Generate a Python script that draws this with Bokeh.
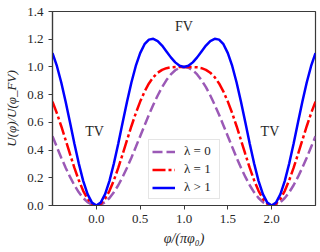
from bokeh.plotting import figure
from bokeh.models import FixedTicker, NumeralTickFormatter, Legend, LegendItem, Range1d
from bokeh.core.properties import value
from bokeh.embed import file_html
from bokeh.resources import INLINE

# x in units of pi*phi0, step 0.05 from -0.5 to 2.5
x = [round(-0.5 + 0.05 * i, 2) for i in range(61)]

u_lam0 = [0.5, 0.422, 0.345, 0.273, 0.206, 0.146, 0.095, 0.054, 0.024, 0.006, 0.0,
          0.006, 0.024, 0.054, 0.095, 0.146, 0.206, 0.273, 0.345, 0.422, 0.5,
          0.578, 0.655, 0.727, 0.794, 0.854, 0.905, 0.946, 0.976, 0.994, 1.0,
          0.994, 0.976, 0.946, 0.905, 0.854, 0.794, 0.727, 0.655, 0.578, 0.5,
          0.422, 0.345, 0.273, 0.206, 0.146, 0.095, 0.054, 0.024, 0.006, 0.0,
          0.006, 0.024, 0.054, 0.095, 0.146, 0.206, 0.273, 0.345, 0.422, 0.5]

u_lam1 = [0.75, 0.666, 0.572, 0.472, 0.370, 0.271, 0.182, 0.106, 0.048, 0.012, 0.0,
          0.012, 0.048, 0.106, 0.182, 0.271, 0.370, 0.472, 0.572, 0.666, 0.75,
          0.822, 0.881, 0.926, 0.958, 0.979, 0.991, 0.997, 0.999, 1.0, 1.0,
          1.0, 0.999, 0.997, 0.991, 0.979, 0.958, 0.926, 0.881, 0.822, 0.75,
          0.666, 0.572, 0.472, 0.370, 0.271, 0.182, 0.106, 0.048, 0.012, 0.0,
          0.012, 0.048, 0.106, 0.182, 0.271, 0.370, 0.472, 0.572, 0.666, 0.75]

u_lamgt1 = [1.1, 1.007, 0.888, 0.749, 0.599, 0.446, 0.303, 0.178, 0.082, 0.021, 0.0,
            0.021, 0.082, 0.178, 0.303, 0.446, 0.599, 0.749, 0.888, 1.007, 1.1,
            1.164, 1.197, 1.203, 1.187, 1.154, 1.112, 1.069, 1.033, 1.008, 1.0,
            1.008, 1.033, 1.069, 1.112, 1.154, 1.187, 1.203, 1.197, 1.164, 1.1,
            1.007, 0.888, 0.749, 0.599, 0.446, 0.303, 0.178, 0.082, 0.021, 0.0,
            0.021, 0.082, 0.178, 0.303, 0.446, 0.599, 0.749, 0.888, 1.007, 1.1]

series_labels = ["λ = 0", "λ = 1", "λ > 1"]
x_ticks = [0.0, 0.5, 1.0, 1.5, 2.0]
y_ticks = [0.0, 0.2, 0.4, 0.6, 0.8, 1.0, 1.2, 1.4]

note_text = ["FV", "TV", "TV"]
note_x = [1.0, -0.02, 1.98]
note_y = [1.29, 0.535, 0.535]

SERIF = "Liberation Serif"
INK = "#262626"

p = figure(width=320, height=252, output_backend="svg", toolbar_location=None,
           x_range=Range1d(-0.5, 2.5), y_range=Range1d(0.0, 1.4),
           min_border_left=52, min_border_right=5, min_border_top=11, min_border_bottom=47)
p.grid.visible = False
p.outline_line_color = "#3a3a3a"
p.outline_line_width = 1.2
p.background_fill_color = "white"
p.border_fill_color = "white"

r0 = p.line(x, u_lam0, line_color="#9b59b6", line_width=2.5, line_dash="10 4")
r1 = p.line(x, u_lam1, line_color="#ff0000", line_width=2.5, line_dash="13 3 3 3")
r2 = p.line(x, u_lamgt1, line_color="#0000ff", line_width=2.5)

p.text(x=note_x, y=note_y, text=note_text, text_font=value(SERIF), text_font_size="14px",
       text_align="center", text_baseline="middle", text_color=INK)

for ax in (p.xaxis[0], p.yaxis[0]):
    ax.major_label_text_font = SERIF
    ax.major_label_text_font_size = "13px"
    ax.major_label_text_color = INK
    ax.axis_label_text_font = SERIF
    ax.axis_label_text_font_style = "italic"
    ax.axis_label_text_color = INK
    ax.minor_tick_line_color = None
    ax.major_tick_in = 0
    ax.major_tick_out = 4
    ax.axis_line_color = "#3a3a3a"
    ax.axis_line_width = 1.2
    ax.major_tick_line_color = "#3a3a3a"
    ax.formatter = NumeralTickFormatter(format="0.0")

p.xaxis[0].ticker = FixedTicker(ticks=x_ticks)
p.yaxis[0].ticker = FixedTicker(ticks=y_ticks)
p.xaxis[0].axis_label = "φ/(πφ₀)"
p.yaxis[0].axis_label = "U(φ)/U(φ_FV)"
p.xaxis[0].axis_label_text_font_size = "14px"
p.yaxis[0].axis_label_text_font_size = "13px"
p.xaxis[0].major_label_standoff = 5
p.yaxis[0].major_label_standoff = 5
p.xaxis[0].axis_label_standoff = 5
p.yaxis[0].axis_label_standoff = 5

legend = Legend(items=[LegendItem(label=series_labels[0], renderers=[r0]),
                       LegendItem(label=series_labels[1], renderers=[r1]),
                       LegendItem(label=series_labels[2], renderers=[r2])],
                location=(96, 6))
legend.label_text_font = SERIF
legend.label_text_font_size = "13px"
legend.label_text_color = INK
legend.glyph_width = 23
legend.glyph_height = 15
legend.label_height = 15
legend.label_width = 32
legend.spacing = 2
legend.padding = 3
legend.margin = 0
legend.label_standoff = 9
legend.border_line_color = "#cccccc"
legend.border_line_width = 1
legend.background_fill_alpha = 0.85
p.add_layout(legend, "center")

open("out.html", "w").write(file_html(p, INLINE))
